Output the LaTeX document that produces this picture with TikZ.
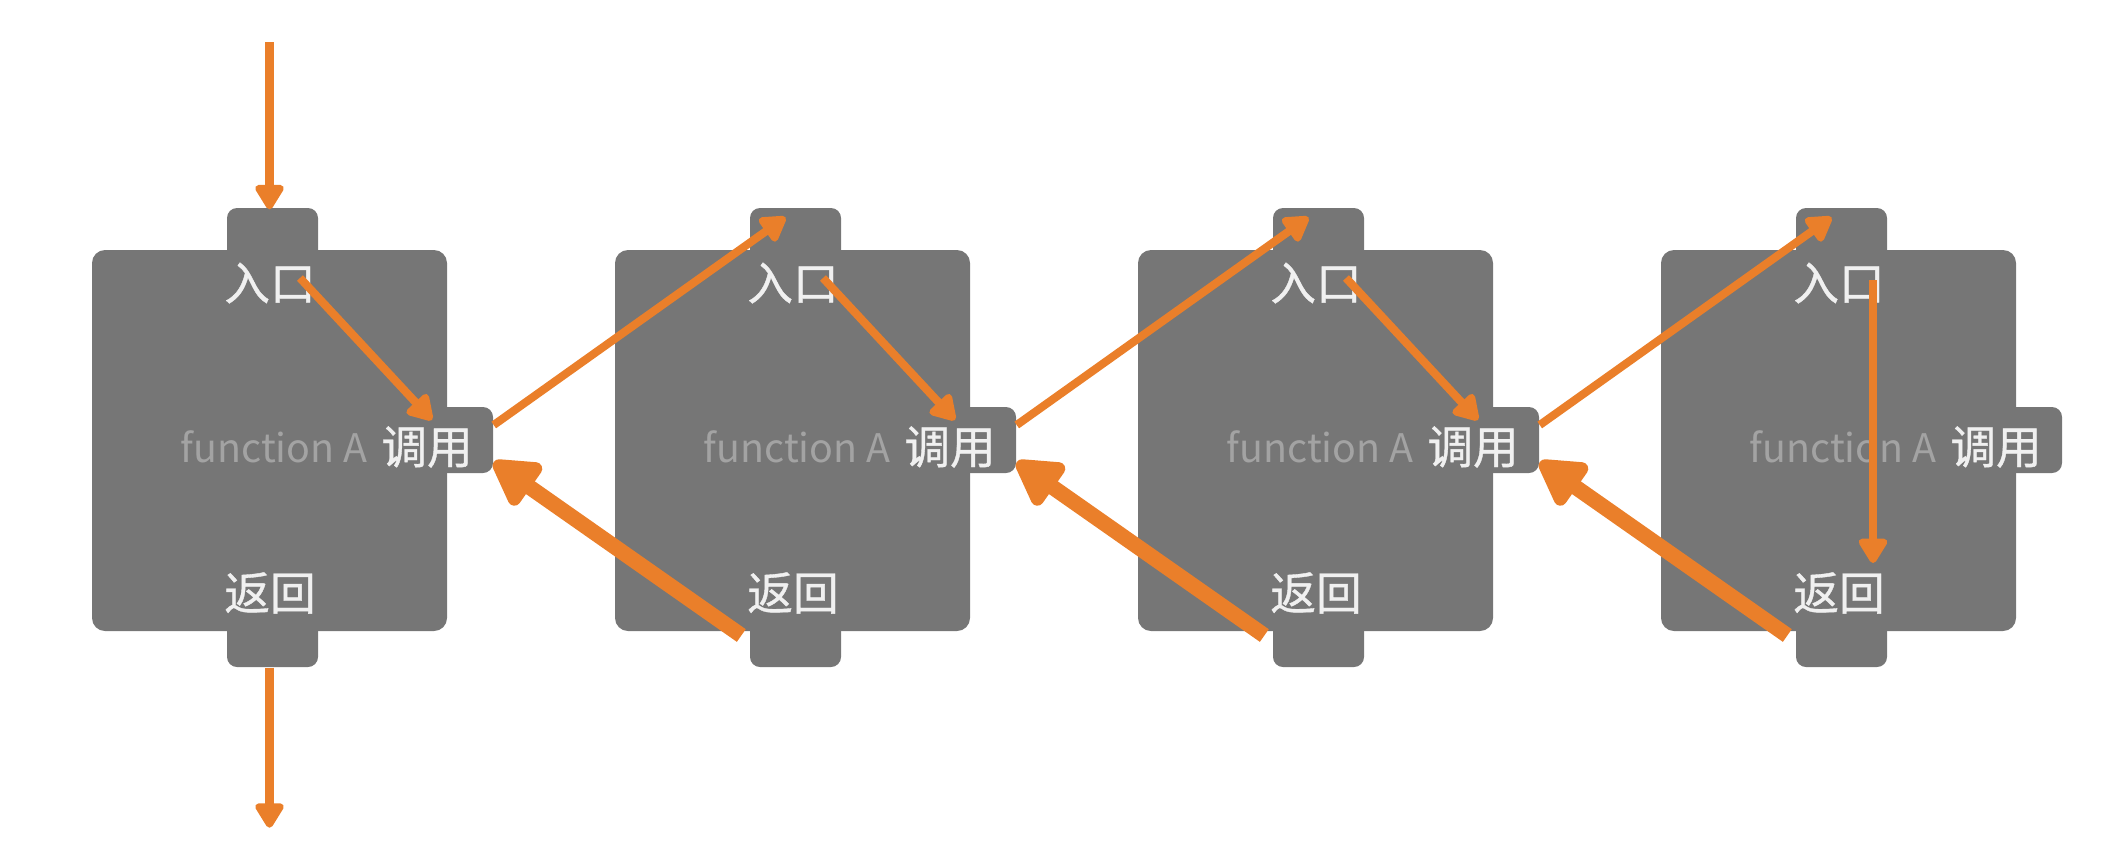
\documentclass[tikz,border=0pt]{standalone}
\usepackage{fontspec}
\setmainfont{Noto Sans CJK SC}
\newfontfamily\cjkbold[FakeBold=0.8]{Noto Sans CJK SC}
\usepackage{xcolor}
\usepackage{tikz}
\usetikzlibrary{arrows.meta,calc}
\definecolor{boxgray}{HTML}{767676}
\definecolor{fngray}{HTML}{A3A3A3}
\definecolor{callorange}{HTML}{EA7F2A}

\begin{document}
\begin{tikzpicture}[x=0.1mm, y=-0.1mm,
  funbox/.style={fill=boxgray, rounded corners=1.3mm, inner sep=0pt, minimum width=35.5mm, minimum height=38.1mm},
  tabbox/.style={fill=boxgray, rounded corners=1mm, inner sep=0pt},
  cjk/.style={text=white!94!black, font=\cjkbold\fontsize{13}{15}\selectfont, inner sep=0pt},
  fntext/.style={text=fngray, font=\fontsize{11.2}{13}\selectfont, inner sep=0pt},
  link/.style={draw=callorange, line width=2.3pt, -{Triangle[length=2.8mm, width=3.2mm, round]}},
  back/.style={draw=callorange, line width=4.4pt, -{Triangle[length=5.2mm, width=5.6mm, round]}}]
 \useasboundingbox (0,0) rectangle (2109,853);
 % the four copies of function A
 \foreach \i in {1,...,4} {
   \pgfmathsetmacro{\dx}{523*(\i-1)}
   \node[tabbox, minimum width=9.1mm, minimum height=5.2mm] (top\i) at (272.5+\dx,234) {};
   \node[tabbox, minimum width=9.1mm, minimum height=4.7mm] (bot\i) at (272.5+\dx,643.5) {};
   \node[tabbox, minimum width=5.6mm, minimum height=6.6mm] (side\i) at (465+\dx,440) {};
   \node[funbox] (fun\i) at (269.5+\dx,440.5) {};
   \node[cjk] (in\i) at (270+\dx,283) {入口};
   \node[cjk] (ret\i) at (270+\dx,593) {返回};
   \node[fntext, anchor=east] (fn\i) at (368+\dx,447) {function A};
   \node[cjk] (call\i) at (427+\dx,447) {调用};
 }
 \coordinate (entry) at ($(top1.north)+(-3,-165)$);
 \coordinate (exit) at ($(bot1.south)+(-3,160)$);
 \draw[link] (entry) -- ($(top1.north)+(-3,2)$);
 \draw[link] ($(bot1.south)+(-3,0)$) -- (exit);
 % entry to call inside each copy
 \foreach \i in {1,2,3}
   \draw[link] ($(in\i)+(30,-5)$) -- ($(call\i)+(5,-27)$);
 \draw[link] ($(in4)+(34,-3)$) -- ($(ret4)+(34,-30)$);
 % call goes on, return comes back
 \foreach \i/\j in {1/2,2/3,3/4} {
   \draw[link] ($(side\i.east)+(0,-15)$) -- ($(top\j.north)+(-10,10)$);
   \draw[back] ($(bot\j.west)+(-8,-8)$) -- ($(side\i.east)+(0,22)$);
 }
\end{tikzpicture}
\end{document}
